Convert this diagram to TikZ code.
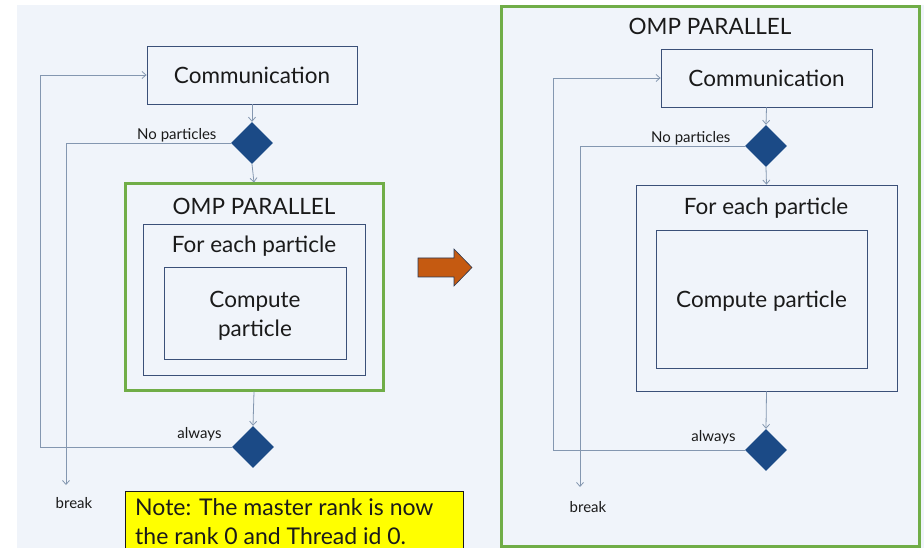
\documentclass[tikz,border=0pt]{standalone}
\usepackage{fontspec}
\setmainfont{Lato}
\usetikzlibrary{arrows.meta,shapes.geometric}

\definecolor{panelbg}{HTML}{F0F4FA}
\definecolor{boxline}{HTML}{3B5078}
\definecolor{flowline}{HTML}{8497B0}
\definecolor{decfill}{HTML}{1B4A86}
\definecolor{ompgreen}{HTML}{70AD47}
\definecolor{noteyellow}{HTML}{FFFF00}
\definecolor{bigarrow}{HTML}{C55A11}
\definecolor{txt}{HTML}{1A1A1A}

\tikzset{
  bigtext/.style={font=\fontsize{22.5}{29}\selectfont, text=txt},
  smalltext/.style={font=\fontsize{15}{17}\selectfont, text=txt},
  block/.style={draw=boxline, line width=0.8pt, rectangle, inner sep=0pt, bigtext},
  ompbox/.style={draw=ompgreen, line width=3pt, rectangle, inner sep=0pt},
  decision/.style={diamond, fill=decfill, draw=none, inner sep=0pt,
                   minimum width=42pt, minimum height=42pt},
  flow/.style={draw=flowline, line width=0.8pt,
               -{Straight Barb[length=4pt,width=7pt]}},
}

\begin{document}
\begin{tikzpicture}[x=1pt,y=-1pt]
  \useasboundingbox (0,0) rectangle (924,548);
  \fill[white] (0,0) rectangle (924,548);
  \fill[panelbg] (17,5) rectangle (924,548);

  % ---------- left flow: parallel region around the particle loop ----------
  \node[block, minimum width=210pt, minimum height=58pt] (lcomm) at (252,75) {Communication};
  \node[decision] (ld1) at (252,143) {};
  \node[ompbox, minimum width=258pt, minimum height=206pt] (lomp) at (254,287) {};
  \node[bigtext] (lomptitle) at (254,206) {OMP PARALLEL};
  \node[block, minimum width=222pt, minimum height=151pt] (lfor) at (254,299.5) {};
  \node[bigtext] (lfortitle) at (254,246) {For each particle};
  \node[minimum width=182pt, minimum height=92pt, draw=boxline, line width=0.8pt, inner sep=0pt] (lcomp) at (255,313) {};
  \node[bigtext, align=center] (lcomptext) at (255,316) {Compute\\particle};
  \node[decision] (ld2) at (253,447) {};

  \coordinate (lloop) at (40,447);
  \coordinate (lbreakend) at (66,485);
  \node[smalltext] (lbreak) at (74,503) {break};
  \node[smalltext, anchor=east] (lnopart) at (220,135) {No particles};
  \node[smalltext, anchor=east] (lalways) at (225,434) {always};

  \draw[flow] (lcomm.south) -- (ld1.north);
  \draw[flow] (ld1.south) -- (lomp.north);
  \draw[flow] (lomp.south) -- (ld2.north);
  \draw[flow] (ld1.west) -| (lbreakend);
  \draw[flow] (ld2.west) -- (lloop) |- (lcomm.west);

  % ---------- note ----------
  \node[draw=txt, line width=0.6pt, fill=noteyellow, anchor=north west,
        minimum width=338pt, minimum height=80pt, inner sep=0pt] (note) at (125,491) {};
  \node[anchor=north west, align=left, inner sep=0pt,
        font=\fontsize{23}{29}\selectfont, text=txt] (notetext) at (135,498)
        {Note: The master rank is now\\the rank 0 and Thread id 0.};

  % ---------- transformation arrow ----------
  \fill[bigarrow, draw=boxline!70!black, line width=0.6pt]
    (418,258) -- (454,258) -- (454,249) -- (472,267.5) -- (454,286)
    -- (454,277) -- (418,277) -- cycle;

  % ---------- right flow: parallel region around the whole loop ----------
  \node[ompbox, minimum width=418pt, minimum height=539pt] (romp) at (710,276.5) {};
  \node[bigtext] (romptitle) at (710,26) {OMP PARALLEL};
  \node[block, minimum width=211pt, minimum height=58pt] (rcomm) at (766.5,78) {Communication};
  \node[decision] (rd1) at (766,146) {};
  \node[block, minimum width=261pt, minimum height=206pt] (rfor) at (766.5,288) {};
  \node[bigtext] (rfortitle) at (766,208) {For each particle};
  \node[block, minimum width=211pt, minimum height=138pt] (rcomp) at (761.5,299) {};
  \node[bigtext] (rcomptext) at (761.5,301) {Compute particle};
  \node[decision] (rd2) at (766,450) {};

  \coordinate (rloop) at (553,450);
  \coordinate (rbreakend) at (580,487);
  \node[smalltext] (rbreak) at (588,507) {break};
  \node[smalltext, anchor=east] (rnopart) at (734,138) {No particles};
  \node[smalltext, anchor=east] (ralways) at (739,437) {always};

  \draw[flow] (rcomm.south) -- (rd1.north);
  \draw[flow] (rd1.south) -- (rfor.north);
  \draw[flow] (rfor.south) -- (rd2.north);
  \draw[flow] (rd1.west) -| (rbreakend);
  \draw[flow] (rd2.west) -- (rloop) |- (rcomm.west);
\end{tikzpicture}
\end{document}
